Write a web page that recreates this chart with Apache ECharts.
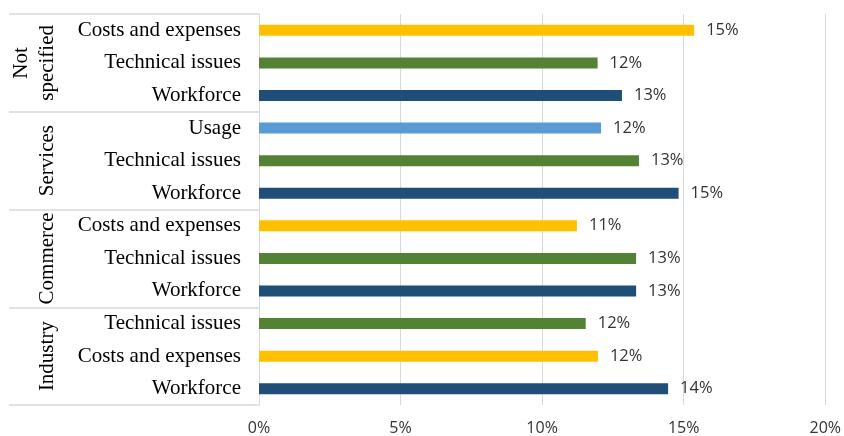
<!DOCTYPE html>
<html>
<head>
<meta charset="utf-8">
<script src="https://cdn.jsdelivr.net/npm/echarts@6/dist/echarts.min.js"></script>
<style>
  html, body { margin: 0; padding: 0; background: #ffffff; }
  #chart { width: 844px; height: 436px; }
</style>
</head>
<body>
<div id="chart"></div>
<script>
// Sectors, listed top to bottom; each one covers three rows
const sectors = ['Not\nspecified', 'Services', 'Commerce', 'Industry'];

// Row labels, top to bottom
const themes = [
  'Costs and expenses', 'Technical issues', 'Workforce',
  'Usage', 'Technical issues', 'Workforce',
  'Costs and expenses', 'Technical issues', 'Workforce',
  'Technical issues', 'Costs and expenses', 'Workforce'
];

// Share of mentions (%) for each row
const shares = [
  15.37, 11.96, 12.82,
  12.08, 13.42, 14.82,
  11.23, 13.32, 13.32,
  11.54, 11.97, 14.45
];

// Value axis ticks
const xTicks = [0, 5, 10, 15, 20];

const themeColors = {
  'Workforce': '#1F4E79',
  'Technical issues': '#548235',
  'Costs and expenses': '#FFC000',
  'Usage': '#5B9BD5'
};

const gridColor = '#d9d9d9';
const chart = echarts.init(document.getElementById('chart'), null, { renderer: 'canvas' });

chart.setOption({
  backgroundColor: '#ffffff',
  animation: false,
  grid: { left: 259, right: 17, top: 14, bottom: 31, containLabel: false },
  xAxis: {
    type: 'value',
    min: xTicks[0],
    max: xTicks[xTicks.length - 1],
    interval: xTicks[1] - xTicks[0],
    axisLine: { show: false },
    axisTick: { show: false },
    splitLine: { show: true, lineStyle: { color: gridColor, width: 1 } },
    axisLabel: {
      margin: 15,
      fontFamily: 'Open Sans',
      fontSize: 16,
      color: '#333333',
      formatter: v => v + '%'
    }
  },
  yAxis: [
    {
      type: 'category',
      inverse: true,
      data: themes,
      position: 'left',
      axisLine: { show: true, lineStyle: { color: gridColor, width: 1 } },
      axisTick: { show: false },
      axisLabel: {
        margin: 18,
        fontFamily: 'Liberation Serif',
        fontSize: 21,
        color: '#000000',
        interval: 0
      }
    },
    {
      type: 'category',
      inverse: true,
      data: sectors,
      position: 'left',
      offset: 0,
      axisLine: { show: false },
      axisTick: {
        show: true,
        interval: 0,
        length: 250,
        lineStyle: { color: gridColor, width: 1.5 }
      },
      axisLabel: {
        rotate: 90,
        margin: 199,
        fontFamily: 'Liberation Serif',
        fontSize: 21,
        lineHeight: 26,
        color: '#000000',
        interval: 0
      }
    }
  ],
  series: [
    {
      type: 'bar',
      yAxisIndex: 0,
      data: shares,
      barWidth: 11,
      itemStyle: {
        color: p => themeColors[themes[p.dataIndex]]
      },
      label: {
        show: true,
        position: 'right',
        distance: 12,
        fontFamily: 'Open Sans',
        fontSize: 16.5,
        color: '#333333',
        formatter: p => Math.round(p.value) + '%'
      }
    }
  ]
});
</script>
</body>
</html>
